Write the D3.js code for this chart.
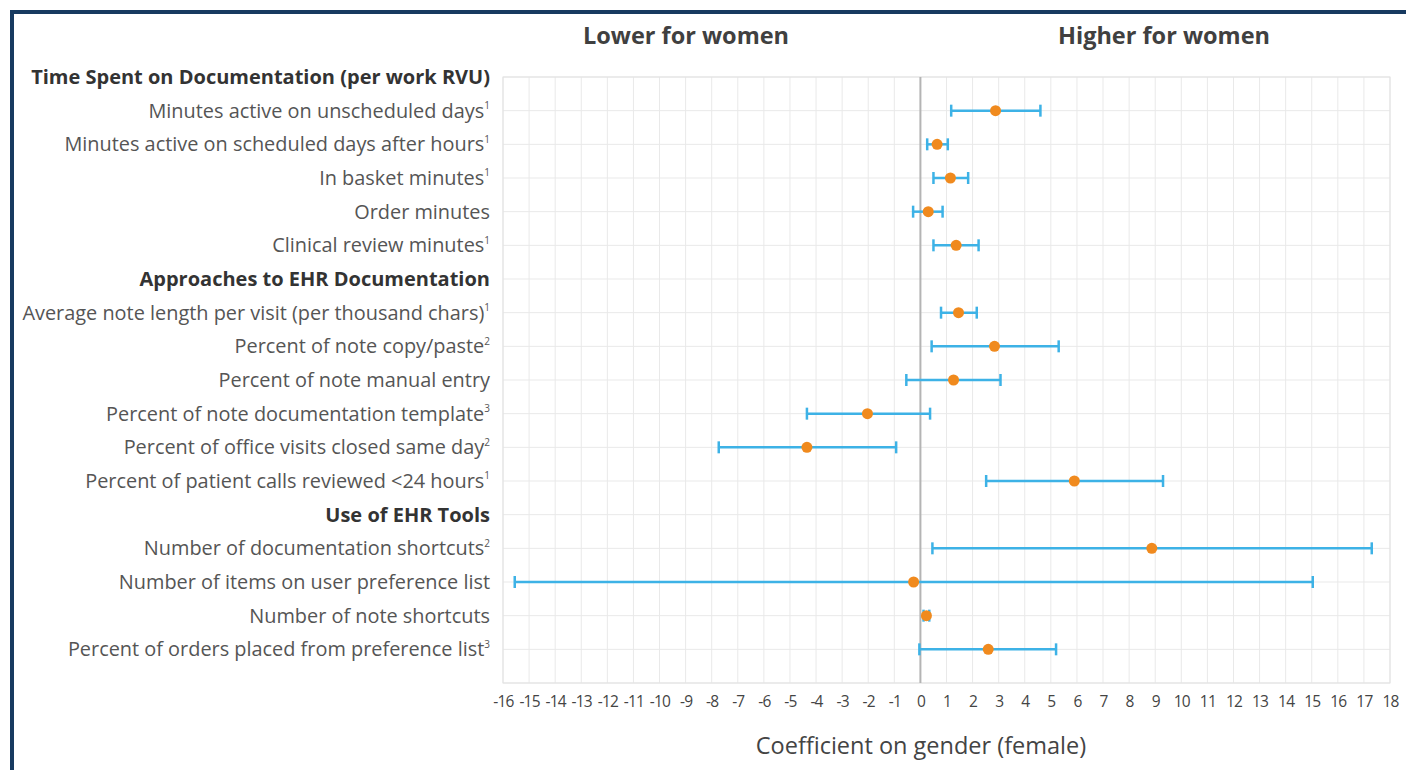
<!DOCTYPE html>
<html>
<head>
<meta charset="utf-8">
<script src="https://cdn.jsdelivr.net/npm/d3@7"></script>
<style>
  html, body { margin: 0; padding: 0; background: #fff; }
  svg { display: block; }
</style>
</head>
<body>
<svg id="chart" width="1406" height="770"></svg>
<script>
// Row labels, top to bottom; section headers have no estimate.
const labels = [
  "Time Spent on Documentation (per work RVU)",
  "Minutes active on unscheduled days",
  "Minutes active on scheduled days after hours",
  "In basket minutes",
  "Order minutes",
  "Clinical review minutes",
  "Approaches to EHR Documentation",
  "Average note length per visit (per thousand chars)",
  "Percent of note copy/paste",
  "Percent of note manual entry",
  "Percent of note documentation template",
  "Percent of office visits closed same day",
  "Percent of patient calls reviewed <24 hours",
  "Use of EHR Tools",
  "Number of documentation shortcuts",
  "Number of items on user preference list",
  "Number of note shortcuts",
  "Percent of orders placed from preference list"
];
const isHeader = [true, false, false, false, false, false, true, false, false, false, false, false, false, true, false, false, false, false];
const footnotes = ["", "1", "1", "1", "", "1", "", "1", "2", "", "3", "2", "1", "", "2", "", "", "3"];

// Coefficient on gender (female) with 95% confidence bounds
const estimate = [null, 2.88, 0.64, 1.15, 0.30, 1.37, null, 1.46, 2.84, 1.27, -2.03, -4.35, 5.90, null, 8.87, -0.26, 0.23, 2.60];
const lower    = [null, 1.18, 0.26, 0.50, -0.28, 0.50, null, 0.79, 0.43, -0.54, -4.35, -7.73, 2.52, null, 0.46, -15.55, 0.12, -0.04];
const upper    = [null, 4.60, 1.05, 1.83, 0.85, 2.23, null, 2.16, 5.30, 3.07, 0.37, -0.93, 9.30, null, 17.30, 15.04, 0.34, 5.20];

const xTicks = d3.range(-16, 19);
const sideLabels = ["Lower for women", "Higher for women"];
const axisTitle = "Coefficient on gender (female)";

const svg = d3.select("#chart");
const font = "'Open Sans', 'Noto Sans', sans-serif";

// Frame
svg.append("rect")
  .attr("x", 12).attr("y", 12)
  .attr("width", 1420).attr("height", 800)
  .attr("fill", "#fff")
  .attr("stroke", "#173a60").attr("stroke-width", 4);

const plot = { left: 503, right: 1390, top: 77, bottom: 683 };
const x = d3.scaleLinear().domain([-16, 18]).range([plot.left, plot.right]);
const y = d3.scaleLinear().domain([0, labels.length]).range([plot.top, plot.bottom]);

const rows = labels.map((label, i) => ({
  label, header: isHeader[i], sup: footnotes[i],
  est: estimate[i], lo: lower[i], hi: upper[i], i
}));

// Grid
const grid = svg.append("g");
grid.selectAll("line.v").data(xTicks).join("line")
  .attr("x1", d => x(d)).attr("x2", d => x(d))
  .attr("y1", plot.top).attr("y2", plot.bottom)
  .attr("stroke", "#e9e9e9").attr("stroke-width", 1);
grid.selectAll("line.h").data(d3.range(labels.length + 1)).join("line")
  .attr("x1", plot.left).attr("x2", plot.right)
  .attr("y1", d => y(d)).attr("y2", d => y(d))
  .attr("stroke", "#e9e9e9").attr("stroke-width", 1);
grid.append("rect")
  .attr("x", plot.left).attr("y", plot.top)
  .attr("width", plot.right - plot.left).attr("height", plot.bottom - plot.top)
  .attr("fill", "none").attr("stroke", "#e2e2e2");

// Zero reference
svg.append("line")
  .attr("x1", x(0)).attr("x2", x(0))
  .attr("y1", plot.top).attr("y2", plot.bottom)
  .attr("stroke", "#b4b4b4").attr("stroke-width", 2);

// X axis tick labels (plain hyphen for negatives)
const xAxis = d3.axisBottom(x).tickValues(xTicks).tickSize(0).tickPadding(0)
  .tickFormat(d => String(d));
const ax = svg.append("g").attr("transform", `translate(0,${plot.bottom + 13})`).call(xAxis);
ax.select(".domain").remove();
ax.selectAll("text")
  .attr("font-family", font).attr("font-size", 15.5)
  .attr("letter-spacing", "-0.8").attr("fill", "#444").attr("dy", "0.71em");

// Row labels
const lab = svg.append("g").selectAll("text").data(rows).join("text")
  .attr("x", 490)
  .attr("y", d => y(d.i))
  .attr("dy", "0.35em")
  .attr("text-anchor", "end")
  .attr("font-family", font)
  .attr("font-size", d => d.header ? 20 : 19.9)
  .attr("font-weight", d => d.header ? 700 : 400)
  .attr("fill", d => d.header ? "#333" : "#555");
lab.append("tspan").text(d => d.label);
lab.filter(d => d.sup).append("tspan")
  .attr("font-size", 10).attr("dy", "-0.85em").text(d => d.sup);

// Confidence intervals
const items = rows.filter(d => !d.header);
const ci = svg.append("g").attr("stroke", "#3db2e6").attr("stroke-width", 2.5);
ci.selectAll("line.span").data(items).join("line")
  .attr("x1", d => x(d.lo)).attr("x2", d => x(d.hi))
  .attr("y1", d => y(d.i)).attr("y2", d => y(d.i));
ci.selectAll("line.lo").data(items).join("line")
  .attr("x1", d => x(d.lo)).attr("x2", d => x(d.lo))
  .attr("y1", d => y(d.i) - 6).attr("y2", d => y(d.i) + 6);
ci.selectAll("line.hi").data(items).join("line")
  .attr("x1", d => x(d.hi)).attr("x2", d => x(d.hi))
  .attr("y1", d => y(d.i) - 6).attr("y2", d => y(d.i) + 6);

// Point estimates
svg.append("g").selectAll("circle").data(items).join("circle")
  .attr("cx", d => x(d.est)).attr("cy", d => y(d.i))
  .attr("r", 5.5).attr("fill", "#f08a1e");

// Side headings and axis title
svg.append("text").attr("x", 686).attr("y", 36).attr("dy", "0.35em")
  .attr("text-anchor", "middle").attr("font-family", font)
  .attr("font-size", 23.5).attr("font-weight", 700).attr("fill", "#404040")
  .text(sideLabels[0]);
svg.append("text").attr("x", 1164).attr("y", 36).attr("dy", "0.35em")
  .attr("text-anchor", "middle").attr("font-family", font)
  .attr("font-size", 23.5).attr("font-weight", 700).attr("fill", "#404040")
  .text(sideLabels[1]);
svg.append("text").attr("x", 921).attr("y", 746).attr("dy", "0.35em")
  .attr("text-anchor", "middle").attr("font-family", font)
  .attr("font-size", 23.5).attr("fill", "#444")
  .text(axisTitle);
</script>
</body>
</html>
